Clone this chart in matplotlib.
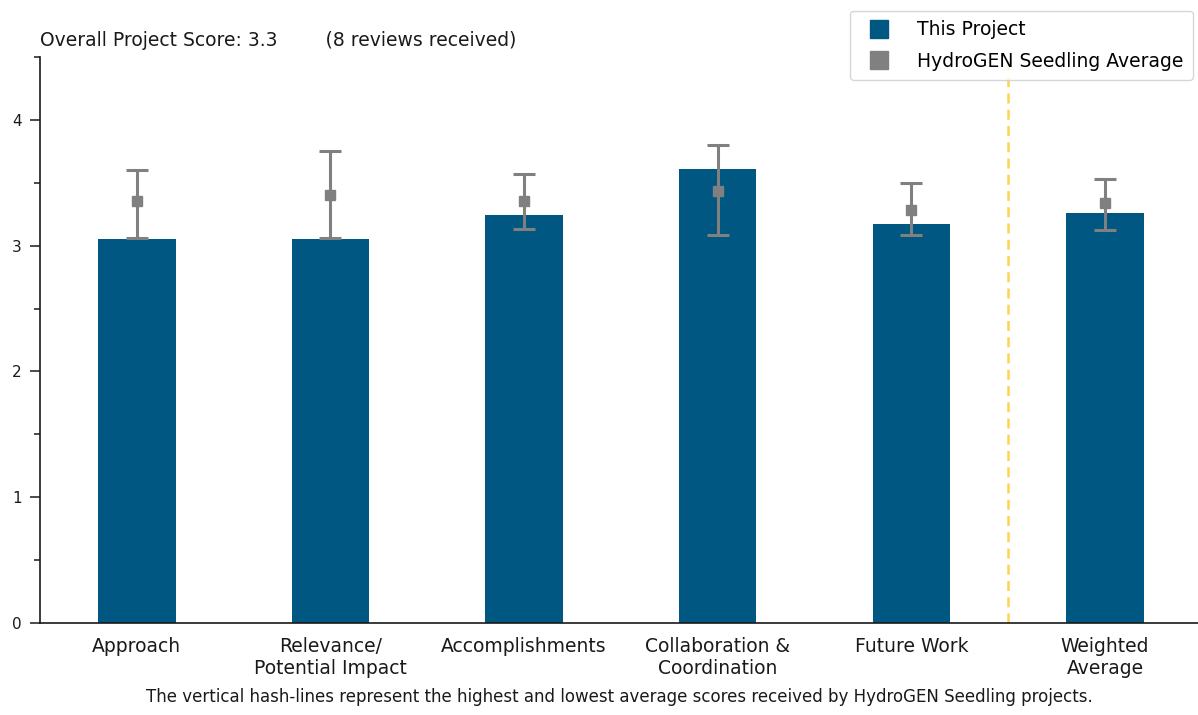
import matplotlib
matplotlib.use("Agg")
import matplotlib.pyplot as plt
from matplotlib.lines import Line2D
from matplotlib.ticker import MultipleLocator

plt.rcParams['font.family'] = ['DejaVu Sans']

categories = ["Approach", "Relevance/\nPotential Impact", "Accomplishments",
              "Collaboration &\nCoordination", "Future Work", "Weighted\nAverage"]
project_scores = [3.05, 3.05, 3.24, 3.61, 3.17, 3.26]
seedling_avg = [3.35, 3.40, 3.35, 3.43, 3.28, 3.34]
seedling_high = [3.60, 3.75, 3.57, 3.80, 3.50, 3.53]
seedling_low = [3.06, 3.06, 3.13, 3.08, 3.08, 3.12]

title_text = "Overall Project Score: 3.3        (8 reviews received)"
footer_text = ("The vertical hash-lines represent the highest and lowest average "
               "scores received by HydroGEN Seedling projects.")

bar_color = "#005782"
err_color = "#808080"

W, H = 1198, 715
fig = plt.figure(figsize=(W / 100, H / 100), dpi=100)
ax = fig.add_axes([40 / W, 1 - 623.3 / H, 1158 / W, (623.3 - 56.7) / H])

x = list(range(len(categories)))
ax.bar(x, project_scores, width=0.4, color=bar_color, zorder=2)

yerr_low = [a - l for a, l in zip(seedling_avg, seedling_low)]
yerr_high = [h - a for a, h in zip(seedling_avg, seedling_high)]
ax.errorbar(x, seedling_avg, yerr=[yerr_low, yerr_high], fmt='s', color=err_color,
            ecolor=err_color, elinewidth=2.2, capsize=8, capthick=2.2,
            markersize=7, zorder=3)

ax.axvline(4.5, color="#FFD34D", linestyle=(0, (4, 2.5)), linewidth=1.8, zorder=1)

ax.set_xlim(-0.5, 5.48)
ax.set_ylim(0, 4.5)
ax.set_xticks(x)
ax.set_xticklabels(categories, fontsize=13.5, color="#1a1a1a", linespacing=1.2)
ax.tick_params(axis='x', length=0, pad=10)
ax.yaxis.set_major_locator(MultipleLocator(1))
ax.yaxis.set_minor_locator(MultipleLocator(0.5))
ax.tick_params(axis='y', which='major', length=7, width=1.1, labelsize=11,
               pad=6, colors="#1a1a1a")
ax.tick_params(axis='y', which='minor', length=4.5, width=1.1, colors="#1a1a1a")

for side in ['top', 'right']:
    ax.spines[side].set_visible(False)
for side in ['left', 'bottom']:
    ax.spines[side].set_linewidth(1.2)
    ax.spines[side].set_color("#1a1a1a")

fig.text(40 / W, 1 - 46 / H, title_text, fontsize=13.5, ha='left', va='baseline',
         color="#1a1a1a")
fig.text(619 / W, 1 - 701.7 / H, footer_text, fontsize=12, ha='center',
         va='baseline', color="#1a1a1a")

handles = [
    Line2D([], [], marker='s', linestyle='none', color=bar_color, markersize=13.5),
    Line2D([], [], marker='s', linestyle='none', color=err_color, markersize=13.5),
]
fig.legend(handles, ["This Project", "HydroGEN Seedling Average"],
           loc='upper right', bbox_to_anchor=(1193 / W, 1 - 10.7 / H),
           borderaxespad=0, fontsize=13.5, handlelength=2.1, handletextpad=0.97,
           labelspacing=0.66, borderpad=0.51, frameon=True, fancybox=True,
           edgecolor="#cccccc")

fig.savefig("out.png", dpi=100)
